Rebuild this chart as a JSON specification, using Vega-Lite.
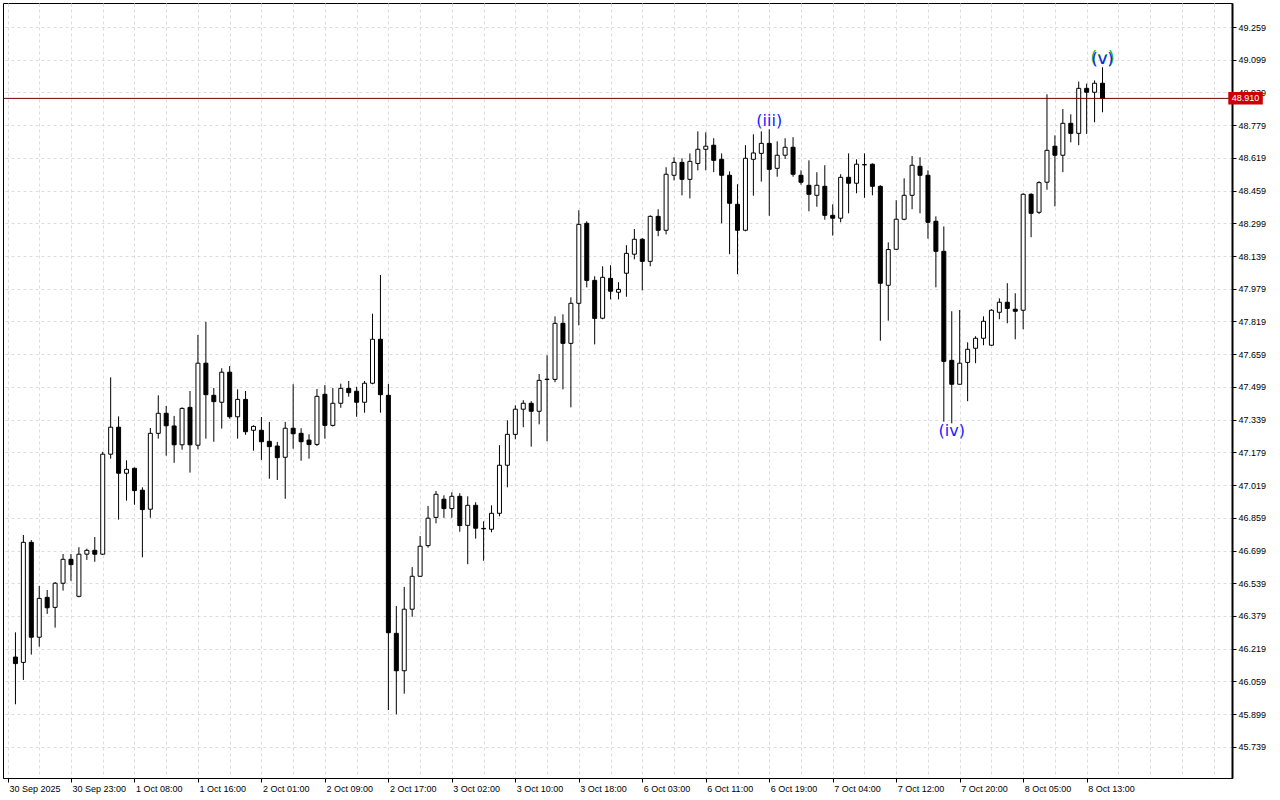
{
  "$schema": "https://vega.github.io/schema/vega-lite/v6.json",
  "width": 1229,
  "height": 775,
  "autosize": {"type": "none"},
  "padding": {"left": 3, "top": 3, "right": 48, "bottom": 22},
  "background": "white",
  "config": {
    "view": {"stroke": "black", "strokeWidth": 1},
    "axis": {"labelFont": "Liberation Sans", "labelFontSize": 9, "labelColor": "black", "domainColor": "black", "tickColor": "black", "gridColor": "#dcdcdc", "gridDash": [3, 3], "gridWidth": 1, "labelOverlap": false, "labelFlush": false, "labelBound": false}
  },
  "datasets": {
    "candles": [
      {"i":0,"o":46.178,"h":46.299,"l":45.947,"c":46.146},
      {"i":1,"o":46.152,"h":46.775,"l":46.066,"c":46.739},
      {"i":2,"o":46.739,"h":46.750,"l":46.190,"c":46.275},
      {"i":3,"o":46.275,"h":46.526,"l":46.229,"c":46.465},
      {"i":4,"o":46.470,"h":46.506,"l":46.389,"c":46.419},
      {"i":5,"o":46.421,"h":46.545,"l":46.322,"c":46.539},
      {"i":6,"o":46.539,"h":46.682,"l":46.503,"c":46.656},
      {"i":7,"o":46.656,"h":46.682,"l":46.551,"c":46.630},
      {"i":8,"o":46.475,"h":46.715,"l":46.470,"c":46.681},
      {"i":9,"o":46.681,"h":46.708,"l":46.653,"c":46.700},
      {"i":10,"o":46.700,"h":46.765,"l":46.644,"c":46.681},
      {"i":11,"o":46.681,"h":47.182,"l":46.677,"c":47.170},
      {"i":12,"o":47.170,"h":47.546,"l":47.148,"c":47.302},
      {"i":13,"o":47.302,"h":47.355,"l":46.850,"c":47.077},
      {"i":14,"o":47.077,"h":47.140,"l":46.943,"c":47.096},
      {"i":15,"o":47.101,"h":47.105,"l":46.923,"c":46.992},
      {"i":16,"o":46.994,"h":47.008,"l":46.666,"c":46.899},
      {"i":17,"o":46.901,"h":47.298,"l":46.859,"c":47.272},
      {"i":18,"o":47.272,"h":47.458,"l":47.246,"c":47.370},
      {"i":19,"o":47.370,"h":47.406,"l":47.163,"c":47.309},
      {"i":20,"o":47.308,"h":47.357,"l":47.128,"c":47.216},
      {"i":21,"o":47.216,"h":47.399,"l":47.192,"c":47.394},
      {"i":22,"o":47.399,"h":47.479,"l":47.080,"c":47.216},
      {"i":23,"o":47.214,"h":47.753,"l":47.194,"c":47.615},
      {"i":24,"o":47.615,"h":47.817,"l":47.246,"c":47.461},
      {"i":25,"o":47.458,"h":47.494,"l":47.231,"c":47.427},
      {"i":26,"o":47.424,"h":47.590,"l":47.295,"c":47.571},
      {"i":27,"o":47.571,"h":47.601,"l":47.344,"c":47.353},
      {"i":28,"o":47.353,"h":47.487,"l":47.246,"c":47.438},
      {"i":29,"o":47.438,"h":47.479,"l":47.265,"c":47.280},
      {"i":30,"o":47.287,"h":47.311,"l":47.187,"c":47.306},
      {"i":31,"o":47.287,"h":47.352,"l":47.142,"c":47.231},
      {"i":32,"o":47.233,"h":47.328,"l":47.050,"c":47.207},
      {"i":33,"o":47.210,"h":47.230,"l":47.044,"c":47.153},
      {"i":34,"o":47.155,"h":47.328,"l":46.952,"c":47.297},
      {"i":35,"o":47.297,"h":47.512,"l":47.197,"c":47.270},
      {"i":36,"o":47.272,"h":47.297,"l":47.138,"c":47.231},
      {"i":37,"o":47.239,"h":47.267,"l":47.148,"c":47.217},
      {"i":38,"o":47.218,"h":47.489,"l":47.210,"c":47.453},
      {"i":39,"o":47.463,"h":47.508,"l":47.246,"c":47.311},
      {"i":40,"o":47.311,"h":47.494,"l":47.305,"c":47.419},
      {"i":41,"o":47.419,"h":47.515,"l":47.397,"c":47.492},
      {"i":42,"o":47.492,"h":47.528,"l":47.451,"c":47.471},
      {"i":43,"o":47.478,"h":47.500,"l":47.353,"c":47.424},
      {"i":44,"o":47.424,"h":47.528,"l":47.373,"c":47.517},
      {"i":45,"o":47.517,"h":47.857,"l":47.512,"c":47.732},
      {"i":46,"o":47.732,"h":48.046,"l":47.373,"c":47.461},
      {"i":47,"o":47.458,"h":47.513,"l":45.919,"c":46.297},
      {"i":48,"o":46.294,"h":46.428,"l":45.898,"c":46.111},
      {"i":49,"o":46.111,"h":46.521,"l":45.999,"c":46.412},
      {"i":50,"o":46.412,"h":46.618,"l":46.375,"c":46.573},
      {"i":51,"o":46.573,"h":46.770,"l":46.570,"c":46.720},
      {"i":52,"o":46.723,"h":46.917,"l":46.713,"c":46.857},
      {"i":53,"o":46.861,"h":46.990,"l":46.832,"c":46.974},
      {"i":54,"o":46.950,"h":46.969,"l":46.859,"c":46.904},
      {"i":55,"o":46.904,"h":46.984,"l":46.859,"c":46.964},
      {"i":56,"o":46.964,"h":46.979,"l":46.791,"c":46.821},
      {"i":57,"o":46.822,"h":46.964,"l":46.632,"c":46.920},
      {"i":58,"o":46.920,"h":46.935,"l":46.757,"c":46.808},
      {"i":59,"o":46.807,"h":46.842,"l":46.649,"c":46.805},
      {"i":60,"o":46.803,"h":46.920,"l":46.788,"c":46.881},
      {"i":61,"o":46.881,"h":47.214,"l":46.866,"c":47.116},
      {"i":62,"o":47.116,"h":47.336,"l":47.008,"c":47.267},
      {"i":63,"o":47.267,"h":47.409,"l":47.243,"c":47.390},
      {"i":64,"o":47.390,"h":47.434,"l":47.302,"c":47.419},
      {"i":65,"o":47.419,"h":47.429,"l":47.207,"c":47.380},
      {"i":66,"o":47.380,"h":47.562,"l":47.316,"c":47.531},
      {"i":67,"o":47.535,"h":47.654,"l":47.233,"c":47.537},
      {"i":68,"o":47.536,"h":47.844,"l":47.522,"c":47.810},
      {"i":69,"o":47.810,"h":47.854,"l":47.487,"c":47.712},
      {"i":70,"o":47.712,"h":47.937,"l":47.399,"c":47.908},
      {"i":71,"o":47.908,"h":48.363,"l":47.800,"c":48.294},
      {"i":72,"o":48.299,"h":48.309,"l":47.986,"c":48.020},
      {"i":73,"o":48.020,"h":48.040,"l":47.707,"c":47.834},
      {"i":74,"o":47.835,"h":48.089,"l":47.830,"c":48.035},
      {"i":75,"o":48.030,"h":48.094,"l":47.927,"c":47.967},
      {"i":76,"o":47.962,"h":48.011,"l":47.927,"c":47.976},
      {"i":77,"o":48.055,"h":48.192,"l":47.940,"c":48.152},
      {"i":78,"o":48.148,"h":48.271,"l":48.123,"c":48.221},
      {"i":79,"o":48.221,"h":48.227,"l":47.971,"c":48.113},
      {"i":80,"o":48.113,"h":48.338,"l":48.089,"c":48.333},
      {"i":81,"o":48.333,"h":48.368,"l":48.236,"c":48.265},
      {"i":82,"o":48.265,"h":48.573,"l":48.245,"c":48.539},
      {"i":83,"o":48.534,"h":48.622,"l":48.509,"c":48.597},
      {"i":84,"o":48.597,"h":48.617,"l":48.436,"c":48.514},
      {"i":85,"o":48.514,"h":48.641,"l":48.421,"c":48.602},
      {"i":86,"o":48.592,"h":48.749,"l":48.558,"c":48.661},
      {"i":87,"o":48.661,"h":48.744,"l":48.558,"c":48.676},
      {"i":88,"o":48.681,"h":48.715,"l":48.549,"c":48.607},
      {"i":89,"o":48.612,"h":48.641,"l":48.299,"c":48.534},
      {"i":90,"o":48.534,"h":48.553,"l":48.148,"c":48.397},
      {"i":91,"o":48.392,"h":48.490,"l":48.050,"c":48.265},
      {"i":92,"o":48.265,"h":48.681,"l":48.260,"c":48.617},
      {"i":93,"o":48.612,"h":48.734,"l":48.434,"c":48.643},
      {"i":94,"o":48.641,"h":48.749,"l":48.503,"c":48.690},
      {"i":95,"o":48.690,"h":48.759,"l":48.336,"c":48.563},
      {"i":96,"o":48.568,"h":48.700,"l":48.527,"c":48.632},
      {"i":97,"o":48.632,"h":48.715,"l":48.614,"c":48.671},
      {"i":98,"o":48.671,"h":48.720,"l":48.527,"c":48.539},
      {"i":99,"o":48.534,"h":48.558,"l":48.488,"c":48.500},
      {"i":100,"o":48.485,"h":48.607,"l":48.358,"c":48.441},
      {"i":101,"o":48.436,"h":48.549,"l":48.380,"c":48.485},
      {"i":102,"o":48.480,"h":48.583,"l":48.317,"c":48.338},
      {"i":103,"o":48.338,"h":48.392,"l":48.239,"c":48.324},
      {"i":104,"o":48.324,"h":48.539,"l":48.304,"c":48.524},
      {"i":105,"o":48.524,"h":48.641,"l":48.348,"c":48.495},
      {"i":106,"o":48.495,"h":48.612,"l":48.446,"c":48.588},
      {"i":107,"o":48.586,"h":48.641,"l":48.424,"c":48.585},
      {"i":108,"o":48.588,"h":48.592,"l":48.436,"c":48.480},
      {"i":109,"o":48.480,"h":48.485,"l":47.725,"c":48.006},
      {"i":110,"o":47.996,"h":48.206,"l":47.823,"c":48.171},
      {"i":111,"o":48.172,"h":48.412,"l":48.170,"c":48.319},
      {"i":112,"o":48.319,"h":48.519,"l":48.314,"c":48.436},
      {"i":113,"o":48.436,"h":48.628,"l":48.368,"c":48.583},
      {"i":114,"o":48.578,"h":48.622,"l":48.348,"c":48.534},
      {"i":115,"o":48.534,"h":48.558,"l":48.224,"c":48.304},
      {"i":116,"o":48.309,"h":48.333,"l":47.986,"c":48.162},
      {"i":117,"o":48.162,"h":48.284,"l":47.329,"c":47.624},
      {"i":118,"o":47.629,"h":47.869,"l":47.321,"c":47.512},
      {"i":119,"o":47.512,"h":47.875,"l":47.510,"c":47.615},
      {"i":120,"o":47.619,"h":47.717,"l":47.429,"c":47.683},
      {"i":121,"o":47.688,"h":47.747,"l":47.615,"c":47.737},
      {"i":122,"o":47.737,"h":47.844,"l":47.703,"c":47.820},
      {"i":123,"o":47.703,"h":47.879,"l":47.700,"c":47.874},
      {"i":124,"o":47.864,"h":47.932,"l":47.830,"c":47.913},
      {"i":125,"o":47.913,"h":48.006,"l":47.810,"c":47.883},
      {"i":126,"o":47.879,"h":47.957,"l":47.732,"c":47.869},
      {"i":127,"o":47.874,"h":48.446,"l":47.781,"c":48.441},
      {"i":128,"o":48.441,"h":48.446,"l":48.231,"c":48.348},
      {"i":129,"o":48.353,"h":48.505,"l":48.345,"c":48.498},
      {"i":130,"o":48.500,"h":48.930,"l":48.463,"c":48.656},
      {"i":131,"o":48.676,"h":48.729,"l":48.382,"c":48.632},
      {"i":132,"o":48.632,"h":48.858,"l":48.549,"c":48.788},
      {"i":133,"o":48.788,"h":48.832,"l":48.695,"c":48.739},
      {"i":134,"o":48.739,"h":48.992,"l":48.681,"c":48.959},
      {"i":135,"o":48.959,"h":48.982,"l":48.736,"c":48.940},
      {"i":136,"o":48.940,"h":48.998,"l":48.793,"c":48.984},
      {"i":137,"o":48.984,"h":49.062,"l":48.842,"c":48.910}
    ],
    "waves": [
      {"i":95,"p":48.759,"w":"(iii)","side":"above","deg":"minor"},
      {"i":118,"p":47.321,"w":"(iv)","side":"below","deg":"minor"},
      {"i":137,"p":49.062,"w":"(v)","side":"above","deg":"intermediate"},
      {"i":137,"p":49.062,"w":"(v)","side":"above","deg":"minor"}
    ],
    "last": [{"p":48.910,"lbl":"48.910"}]
  },
  "layer": [
    {
      "data": {"name": "candles"},
      "mark": {"type": "rule", "color": "black", "strokeWidth": 1},
      "encoding": {
        "x": {"field": "i", "type": "quantitative", "title": null,
          "scale": {"domain": [-0.9375, 152.6875], "nice": false, "zero": false},
          "axis": {
            "orient": "bottom", "grid": true, "labelOverlap": false, "tickCount": 100,
            "values": [-0.9375,3,7,11,15,19,23,27,31,35,39,43,47,51,55,59,63,67,71,75,79,83,87,91,95,99,103,107,111,115,119,123,127,131,135,139,143,147,151],
            "labelExpr": "datum.value < 0 ? '30 Sep 2025' : ((datum.value - 7) % 8 == 0 && datum.value <= 135 ? ['30 Sep 23:00','1 Oct 08:00','1 Oct 16:00','2 Oct 01:00','2 Oct 09:00','2 Oct 17:00','3 Oct 02:00','3 Oct 10:00','3 Oct 18:00','6 Oct 03:00','6 Oct 11:00','6 Oct 19:00','7 Oct 04:00','7 Oct 12:00','7 Oct 20:00','8 Oct 05:00','8 Oct 13:00'][(datum.value - 7) / 8] : '')",
            "labelAlign": "left", "labelBaseline": "top", "labelPadding": 2, "labelOffset": 1,
            "tickSize": 4,
            "tickOpacity": {"condition": {"test": "datum.value < 0 || ((datum.value - 7) % 8 == 0 && datum.value <= 135)", "value": 1}, "value": 0}
          }
        },
        "y": {"field": "l", "type": "quantitative", "title": null,
          "scale": {"domain": [45.5866, 49.3764], "nice": false, "zero": false},
          "axis": {
            "orient": "right", "grid": true, "labelOverlap": false, "tickCount": 100,
            "values": [45.739,45.899,46.059,46.219,46.379,46.539,46.699,46.859,47.019,47.179,47.339,47.499,47.659,47.819,47.979,48.139,48.299,48.459,48.619,48.779,48.939,49.099,49.259],
            "format": ".3f", "tickSize": 4, "labelPadding": 2, "domainWidth": 2
          }
        },
        "y2": {"field": "h"}
      }
    },
    {
      "data": {"name": "candles"},
      "mark": {"type": "bar", "width": 4, "stroke": "black", "strokeWidth": 1},
      "encoding": {
        "x": {"field": "i", "type": "quantitative", "title": null},
        "y": {"field": "o", "type": "quantitative", "title": null},
        "y2": {"field": "c"},
        "fill": {"condition": {"test": "datum.c > datum.o", "value": "white"}, "value": "black"}
      }
    },
    {
      "data": {"name": "last"},
      "mark": {"type": "rule", "color": "#700000", "strokeWidth": 1},
      "encoding": {
        "y": {"field": "p", "type": "quantitative", "title": null}
      }
    },
    {
      "data": {"name": "waves"},
      "transform": [{"filter": "datum.deg == 'intermediate'"}],
      "mark": {"type": "text", "font": "DejaVu Sans", "fontSize": 18, "baseline": "bottom", "align": "center", "color": "#22bb22", "dy": 1},
      "encoding": {
        "x": {"field": "i", "type": "quantitative", "title": null},
        "y": {"field": "p", "type": "quantitative", "title": null},
        "text": {"field": "w"}
      }
    },
    {
      "data": {"name": "waves"},
      "transform": [{"filter": "datum.side == 'above' && datum.deg == 'minor'"}],
      "mark": {"type": "text", "font": "DejaVu Sans", "fontSize": 16, "baseline": "bottom", "align": "center", "color": "#2020ff"},
      "encoding": {
        "x": {"field": "i", "type": "quantitative", "title": null},
        "y": {"field": "p", "type": "quantitative", "title": null},
        "text": {"field": "w"}
      }
    },
    {
      "data": {"name": "waves"},
      "transform": [{"filter": "datum.side == 'below'"}],
      "mark": {"type": "text", "font": "DejaVu Sans", "fontSize": 16, "baseline": "top", "align": "center", "color": "#2020ff"},
      "encoding": {
        "x": {"field": "i", "type": "quantitative", "title": null},
        "y": {"field": "p", "type": "quantitative", "title": null},
        "text": {"field": "w"}
      }
    },
    {
      "data": {"name": "last"},
      "mark": {"type": "rect", "color": "#cc0000", "clip": false},
      "encoding": {
        "x": {"datum": 152.85, "type": "quantitative", "title": null},
        "x2": {"datum": 157.2},
        "y": {"datum": 48.941, "type": "quantitative", "title": null},
        "y2": {"datum": 48.880}
      }
    },
    {
      "data": {"name": "last"},
      "mark": {"type": "text", "color": "white", "font": "Liberation Sans", "fontSize": 9, "align": "center", "baseline": "middle"},
      "encoding": {
        "x": {"datum": 155.02, "type": "quantitative", "title": null},
        "y": {"field": "p", "type": "quantitative", "title": null},
        "text": {"field": "lbl"}
      }
    }
  ]
}
